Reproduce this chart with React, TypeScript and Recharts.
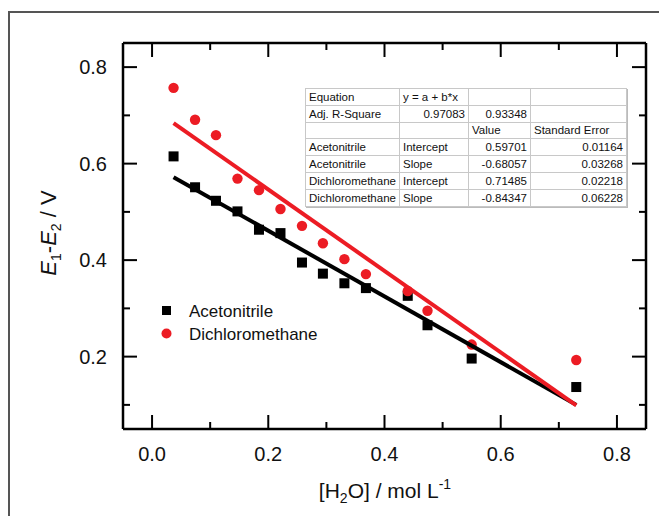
import React from 'react';
import { ScatterChart, Scatter, XAxis, YAxis } from 'recharts';

// ---- data ----
const waterConc = [0.037, 0.074, 0.110, 0.147, 0.184, 0.221, 0.258, 0.294, 0.331, 0.368, 0.440, 0.474, 0.550, 0.730];
const acetonitrile = [0.615, 0.551, 0.523, 0.501, 0.463, 0.456, 0.395, 0.372, 0.352, 0.342, 0.326, 0.265, 0.196, 0.137];
const dichloromethane = [0.757, 0.691, 0.659, 0.569, 0.545, 0.506, 0.471, 0.435, 0.402, 0.371, 0.336, 0.295, 0.225, 0.193];

const fitX = [0.037, 0.730];
const fitAcetonitrile = [0.572, 0.100];
const fitDichloromethane = [0.684, 0.099];

const xTicks = [0, 0.1, 0.2, 0.3, 0.4, 0.5, 0.6, 0.7, 0.8];
const xTickLabels = ['0.0', '', '0.2', '', '0.4', '', '0.6', '', '0.8'];
const yTicks = [0.1, 0.2, 0.3, 0.4, 0.5, 0.6, 0.7, 0.8];
const yTickLabels = ['', '0.2', '', '0.4', '', '0.6', '', '0.8'];

const tableRows = [
  ['Equation', 'y = a + b*x', '', ''],
  ['Adj. R-Square', '0.97083', '0.93348', ''],
  ['', '', 'Value', 'Standard Error'],
  ['Acetonitrile', 'Intercept', '0.59701', '0.01164'],
  ['Acetonitrile', 'Slope', '-0.68057', '0.03268'],
  ['Dichloromethane', 'Intercept', '0.71485', '0.02218'],
  ['Dichloromethane', 'Slope', '-0.84347', '0.06228'],
];

const anData = waterConc.map((x, i) => ({ x, y: acetonitrile[i] }));
const dcmData = waterConc.map((x, i) => ({ x, y: dichloromethane[i] }));
const anFit = fitX.map((x, i) => ({ x, y: fitAcetonitrile[i] }));
const dcmFit = fitX.map((x, i) => ({ x, y: fitDichloromethane[i] }));

const W = 659;
const H = 508;
// plot area in chart coords: left 115, top 35, right 638, bottom 421 (axes are 1px thick)
const M = { top: 34, left: 114, right: 20, bottom: 86 };
const RED = '#ec1c24';
const FONT = '"Liberation Sans", Arial, sans-serif';
const MAJOR = 14;
const MINOR = 7;
const TW = 2;

const BottomTick = (p: any) => {
  const { x, y, index } = p;
  const lab = xTickLabels[index];
  return (
    <g>
      <line x1={x} x2={x} y1={y} y2={y - (lab ? MAJOR : MINOR)} stroke="#000" strokeWidth={TW} />
      {lab ? (
        <text x={x} y={y + 32} textAnchor="middle" fontSize={20} fontFamily={FONT} fill="#111">{lab}</text>
      ) : null}
    </g>
  );
};
const TopTick = (p: any) => {
  const { x, y, index } = p;
  const lab = xTickLabels[index];
  return <line x1={x} x2={x} y1={y} y2={y + (lab ? MAJOR : MINOR)} stroke="#000" strokeWidth={TW} />;
};
const LeftTick = (p: any) => {
  const { x, y, index } = p;
  const lab = yTickLabels[index];
  return (
    <g>
      <line x1={x} x2={x + (lab ? MAJOR : MINOR)} y1={y} y2={y} stroke="#000" strokeWidth={TW} />
      {lab ? (
        <text x={x - 16} y={y + 7} textAnchor="end" fontSize={20} fontFamily={FONT} fill="#111">{lab}</text>
      ) : null}
    </g>
  );
};
const RightTick = (p: any) => {
  const { x, y, index } = p;
  const lab = yTickLabels[index];
  return <line x1={x} x2={x - (lab ? MAJOR : MINOR)} y1={y} y2={y} stroke="#000" strokeWidth={TW} />;
};

const Square = (p: any) => <rect x={p.cx - 5} y={p.cy - 5} width={10} height={10} fill="#000" />;
const Dot = (p: any) => <circle cx={p.cx} cy={p.cy} r={5.2} fill={RED} />;
const NoShape = () => <g />;

const axisLine = { stroke: '#000', strokeWidth: 2.5 };

export default function App() {
  return (
    <div style={{ position: 'relative', width: W, height: H, fontFamily: FONT }}>
      <div style={{ position: 'absolute', left: 0, top: 3, width: W, height: H - 3, borderLeft: '2px solid #555', borderTop: '2px solid #555', boxSizing: 'border-box' }} />
      <ScatterChart width={W} height={H} margin={M} style={{ position: 'absolute', left: 0, top: 0 }}>
        <XAxis xAxisId="b" type="number" dataKey="x" domain={[-0.05, 0.85]} allowDataOverflow ticks={xTicks} interval={0}
          height={1} tickSize={0} tickMargin={0} tickLine={false} axisLine={axisLine} tick={<BottomTick />} orientation="bottom" />
        <XAxis xAxisId="t" type="number" dataKey="x" domain={[-0.05, 0.85]} allowDataOverflow ticks={xTicks} interval={0}
          height={1} tickSize={0} tickMargin={0} tickLine={false} axisLine={axisLine} tick={<TopTick />} orientation="top" />
        <YAxis yAxisId="l" type="number" dataKey="y" domain={[0.05, 0.85]} allowDataOverflow ticks={yTicks} interval={0}
          width={1} tickSize={0} tickMargin={0} tickLine={false} axisLine={axisLine} tick={<LeftTick />} orientation="left" />
        <YAxis yAxisId="r" type="number" dataKey="y" domain={[0.05, 0.85]} allowDataOverflow ticks={yTicks} interval={0}
          width={1} tickSize={0} tickMargin={0} tickLine={false} axisLine={axisLine} tick={<RightTick />} orientation="right" />
        <Scatter xAxisId="b" yAxisId="l" data={anData} shape={<Square />} isAnimationActive={false} />
        <Scatter xAxisId="b" yAxisId="l" data={dcmData} shape={<Dot />} isAnimationActive={false} />
        <Scatter xAxisId="b" yAxisId="l" data={anFit} shape={<NoShape />} line={{ stroke: '#000', strokeWidth: 4 }} isAnimationActive={false} />
        <Scatter xAxisId="b" yAxisId="l" data={dcmFit} shape={<NoShape />} line={{ stroke: RED, strokeWidth: 4 }} isAnimationActive={false} />
      </ScatterChart>
      <svg width={W} height={H} style={{ position: 'absolute', left: 0, top: 0, pointerEvents: 'none' }}>
        <text transform="translate(48,225) rotate(-90)" textAnchor="middle" fontSize={22} fontFamily={FONT} fill="#111">
          <tspan fontStyle="italic">E</tspan>
          <tspan fontSize={14} dy={5}>1</tspan>
          <tspan dy={-5}>-</tspan>
          <tspan fontStyle="italic">E</tspan>
          <tspan fontSize={14} dy={5}>2</tspan>
          <tspan dy={-5}> / V</tspan>
        </text>
        <text x={377} y={490} textAnchor="middle" fontSize={21} fontFamily={FONT} fill="#111">
          <tspan>[H</tspan>
          <tspan fontSize={14} dy={5}>2</tspan>
          <tspan dy={-5}>O] / mol L</tspan>
          <tspan fontSize={14} dy={-9}>-1</tspan>
        </text>
        <rect x={154} y={298} width={9} height={9} fill="#000" />
        <text x={181} y={308.5} fontSize={17} fontFamily={FONT} fill="#111">Acetonitrile</text>
        <circle cx={158.5} cy={325.5} r={5} fill={RED} />
        <text x={181} y={331.5} fontSize={17} fontFamily={FONT} fill="#111">Dichloromethane</text>
      </svg>
      <table style={{ position: 'absolute', left: 297, top: 80, borderCollapse: 'collapse', fontSize: 11.5, fontFamily: FONT, background: '#fff', border: '1px solid #888', boxShadow: '1px 1px 0 #bbb', tableLayout: 'fixed', width: 321 }}>
        <colgroup>
          <col style={{ width: 94 }} />
          <col style={{ width: 69 }} />
          <col style={{ width: 62 }} />
          <col style={{ width: 96 }} />
        </colgroup>
        <tbody>
          {tableRows.map((row, ri) => (
            <tr key={ri} style={{ height: 16.8 }}>
              {row.map((c, ci) => {
                const numeric = /^-?\d/.test(c) && !(ri === 0);
                return (
                  <td key={ci} style={{ border: '1px solid #c8c8c8', padding: '0 3px', textAlign: numeric ? 'right' : 'left', whiteSpace: 'nowrap', overflow: 'hidden', lineHeight: '14px', color: '#111' }}>{c}</td>
                );
              })}
            </tr>
          ))}
        </tbody>
      </table>
    </div>
  );
}
